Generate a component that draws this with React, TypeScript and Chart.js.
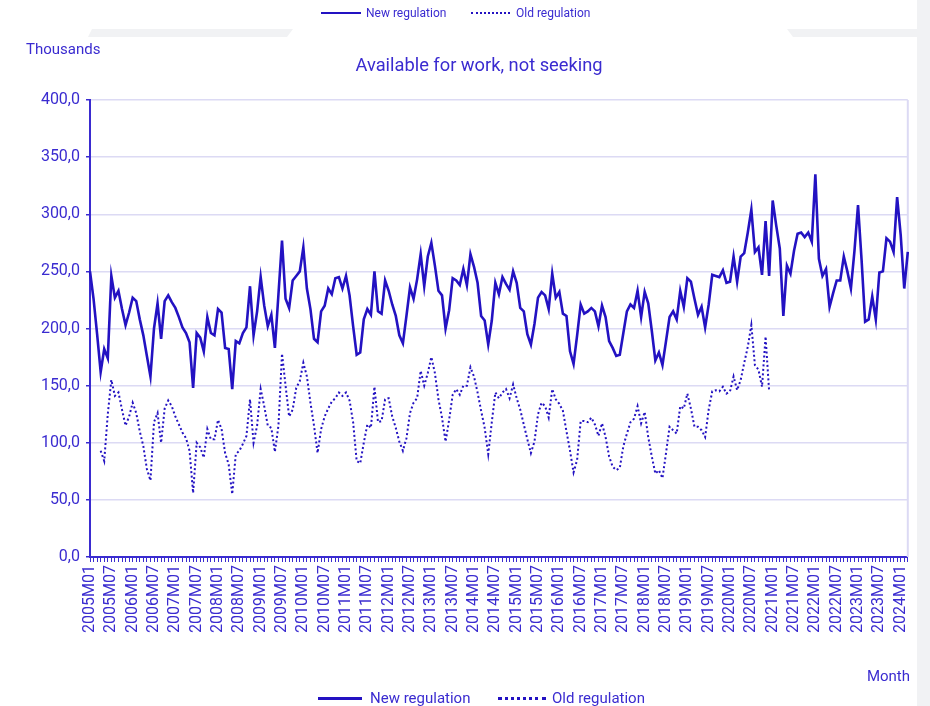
import React, { useEffect, useRef } from 'react';
import { Chart, registerables } from 'chart.js';

Chart.register(...registerables);

const LINE_BLUE = '#2312c2';
const TEXT_BLUE = '#3a2bd0';
const GRID = '#dcdaf4';
const PAGE_GREY = '#f1f2f4';
const FONT = 'Roboto, "Noto Sans", sans-serif';

const FIRST_YEAR = 2005;
const MONTH_COUNT = 231; // 2005M01 .. 2024M03

const Y_TICKS = [0, 50, 100, 150, 200, 250, 300, 350, 400];

const NEW_REGULATION = [
  250, 226, 195, 162, 182, 174, 246, 227, 233, 217, 203, 214,
  227, 224, 208, 194, 176, 158, 200, 222, 191, 224, 229, 223,
  218, 210, 201, 196, 188, 148, 196, 192, 180, 210, 196, 194,
  217, 214, 183, 182, 147, 189, 187, 196, 201, 237, 194, 215,
  245, 220, 202, 212, 183, 230, 277, 226, 218, 242, 246, 250,
  271, 235, 217, 191, 188, 215, 220, 235, 230, 244, 245, 235,
  246, 229, 202, 177, 179, 208, 217, 212, 250, 215, 213, 242,
  233, 221, 211, 194, 187, 211, 236, 226, 243, 265, 237, 263,
  275, 255, 233, 229, 200, 216, 244, 242, 238, 252, 238, 265,
  254, 240, 211, 207, 186, 207, 240, 230, 245, 239, 234, 250,
  240, 218, 215, 195, 186, 204, 227, 232, 229, 217, 248, 227,
  232, 213, 211, 180, 169, 194, 221, 213, 215, 218, 215, 202,
  220, 210, 189, 183, 176, 177, 196, 215, 221, 218, 233, 210,
  232, 222, 198, 172, 179, 168, 189, 210, 215, 208, 233, 219,
  244, 241, 226, 212, 219, 201, 221, 247, 246, 245, 251, 240,
  241, 263, 241, 263, 266, 284, 304, 267, 271, 247, 294, 246,
  312, 290, 270, 211, 255, 248, 268, 283, 284, 280, 284, 276,
  335, 261, 246, 252, 219, 231, 242, 242, 263, 250, 235, 268,
  308, 260, 206, 208, 228, 208, 249, 250, 279, 276, 267, 315,
  282, 235, 267,
];

const OLD_REGULATION = [
  null, null, null, 93, 84, 125, 155, 141, 144, 129, 115, 123,
  135, 126, 110, 97, 77, 67, 118, 126, 100, 130, 137, 132,
  123, 116, 109, 104, 93, 56, 100, 96, 87, 112, 103, 103,
  120, 112, 91, 81, 55, 90, 93, 99, 106, 138, 100, 115,
  147, 132, 115, 113, 92, 115, 178, 150, 123, 129, 148, 154,
  170, 158, 135, 115, 91, 112, 123, 130, 136, 139, 144, 141,
  144, 137, 118, 84, 82, 100, 116, 113, 149, 118, 119, 138,
  139, 123, 113, 101, 93, 104, 126, 135, 139, 163, 150, 161,
  175, 161, 138, 122, 101, 120, 142, 147, 142, 150, 150, 166,
  158, 144, 128, 113, 90, 118, 144, 139, 144, 147, 139, 151,
  139, 129, 116, 103, 91, 101, 125, 135, 132, 122, 147, 138,
  134, 128, 110, 93, 74, 85, 119, 119, 118, 122, 116, 106,
  117, 105, 88, 79, 76, 78, 97, 108, 118, 121, 132, 117,
  127, 105, 88, 73, 76, 69, 91, 114, 111, 108, 132, 130,
  143, 130, 114, 114, 111, 105, 129, 145, 146, 145, 149, 143,
  145, 158, 146, 155, 170, 184, 203, 168, 164, 149, 193, 145,
];

function buildMonths(): string[] {
  const out: string[] = [];
  for (let k = 0; k < MONTH_COUNT; k++) {
    const y = FIRST_YEAR + Math.floor(k / 12);
    const m = (k % 12) + 1;
    out.push(`${y}M${m < 10 ? '0' + m : m}`);
  }
  return out;
}
const MONTHS = buildMonths();

const rightBorder = {
  id: 'rightBorder',
  beforeDatasetsDraw(chart: any) {
    const { ctx, chartArea } = chart;
    ctx.save();
    ctx.strokeStyle = GRID;
    ctx.lineWidth = 2;
    ctx.beginPath();
    ctx.moveTo(chartArea.right, chartArea.top);
    ctx.lineTo(chartArea.right, chartArea.bottom);
    ctx.stroke();
    ctx.restore();
  },
};

export default function App() {
  const ref = useRef<HTMLCanvasElement | null>(null);

  useEffect(() => {
    if (!ref.current) return;
    const chart = new Chart(ref.current, {
      type: 'line',
      data: {
        labels: MONTHS,
        datasets: [
          {
            label: 'New regulation',
            data: NEW_REGULATION,
            borderColor: LINE_BLUE,
            borderWidth: 2.6,
            pointRadius: 0,
            tension: 0,
            fill: false,
          },
          {
            label: 'Old regulation',
            data: OLD_REGULATION as any,
            borderColor: LINE_BLUE,
            borderWidth: 2,
            borderDash: [2, 2.5],
            borderCapStyle: 'butt',
            pointRadius: 0,
            tension: 0,
            fill: false,
            spanGaps: false,
          },
        ],
      },
      options: {
        responsive: false,
        animation: false,
        layout: { padding: { top: 100, right: 19, left: 0, bottom: 0 } },
        plugins: {
          legend: { display: false },
          title: { display: false },
          tooltip: { enabled: false },
        },
        scales: {
          x: {
            type: 'category',
            offset: false,
            border: { display: true, color: TEXT_BLUE, width: 2 },
            grid: {
              display: true,
              drawOnChartArea: false,
              drawTicks: true,
              tickLength: 5,
              tickColor: TEXT_BLUE,
              tickWidth: 1,
            },
            ticks: {
              autoSkip: false,
              maxRotation: 90,
              minRotation: 90,
              padding: 3,
              color: TEXT_BLUE,
              font: { family: FONT, size: 16 },
              callback: function (this: any, val: any, index: number) {
                return index % 6 === 0 ? MONTHS[index] : '';
              },
            },
            afterFit: (scale: any) => {
              scale.height = 149;
            },
          },
          y: {
            min: Y_TICKS[0],
            max: Y_TICKS[Y_TICKS.length - 1],
            border: { display: true, color: TEXT_BLUE, width: 2 },
            grid: {
              color: GRID,
              lineWidth: 1.5,
              drawTicks: true,
              tickLength: 4,
              tickColor: TEXT_BLUE,
            },
            afterBuildTicks: (scale: any) => {
              scale.ticks = Y_TICKS.map((v) => ({ value: v }));
            },
            ticks: {
              padding: 6,
              color: TEXT_BLUE,
              font: { family: FONT, size: 16 },
              callback: (v: any) => Number(v).toFixed(1).replace('.', ','),
            },
            afterFit: (scale: any) => {
              scale.width = 90;
            },
          },
        },
      },
      plugins: [rightBorder],
    });
    return () => chart.destroy();
  }, []);

  const txt = (extra: React.CSSProperties): React.CSSProperties => ({
    position: 'absolute',
    color: TEXT_BLUE,
    fontFamily: FONT,
    whiteSpace: 'nowrap',
    ...extra,
  });

  return (
    <div
      style={{
        position: 'fixed',
        left: 0,
        top: 0,
        width: 930,
        height: 706,
        overflow: 'hidden',
        background: '#ffffff',
      }}
    >
      {/* page decoration */}
      <div style={{ position: 'absolute', left: 917, top: 0, width: 13, height: 706, background: PAGE_GREY }} />
      <div
        style={{
          position: 'absolute',
          left: 0,
          top: 29,
          width: 930,
          height: 8,
          background: PAGE_GREY,
          clipPath: 'polygon(92px 0, 293px 0, 287px 8px, 88px 8px)',
        }}
      />
      <div
        style={{
          position: 'absolute',
          left: 0,
          top: 29,
          width: 930,
          height: 8,
          background: PAGE_GREY,
          clipPath: 'polygon(787px 0, 930px 0, 930px 8px, 793px 8px)',
        }}
      />

      <canvas
        ref={ref}
        width={930}
        height={706}
        style={{ position: 'absolute', left: 0, top: 0, width: 930, height: 706, display: 'block' }}
      />

      {/* top legend */}
      <div style={{ position: 'absolute', left: 321, top: 12, width: 40, borderTop: `2.5px solid ${LINE_BLUE}` }} />
      <div style={txt({ left: 366, top: 6, fontSize: 12, lineHeight: '14px' })}>New regulation</div>
      <div style={{ position: 'absolute', left: 471, top: 12, width: 39, borderTop: `2px dotted ${LINE_BLUE}` }} />
      <div style={txt({ left: 516, top: 6, fontSize: 12, lineHeight: '14px' })}>Old regulation</div>

      {/* axis title + chart title */}
      <div style={txt({ left: 26, top: 40, fontSize: 15, lineHeight: '18px' })}>Thousands</div>
      <div style={txt({ left: 0, width: 958, top: 54, fontSize: 18.3, lineHeight: '22px', textAlign: 'center' })}>
        Available for work, not seeking
      </div>
      <div style={txt({ right: 20, top: 667, fontSize: 15, lineHeight: '18px' })}>Month</div>

      {/* bottom legend */}
      <div style={{ position: 'absolute', left: 318, top: 697, width: 44, borderTop: `3px solid ${LINE_BLUE}` }} />
      <div style={txt({ left: 370, top: 689, fontSize: 15, lineHeight: '18px' })}>New regulation</div>
      <div style={{ position: 'absolute', left: 498, top: 697, width: 48, borderTop: `3px dotted ${LINE_BLUE}` }} />
      <div style={txt({ left: 552, top: 689, fontSize: 15, lineHeight: '18px' })}>Old regulation</div>
    </div>
  );
}
